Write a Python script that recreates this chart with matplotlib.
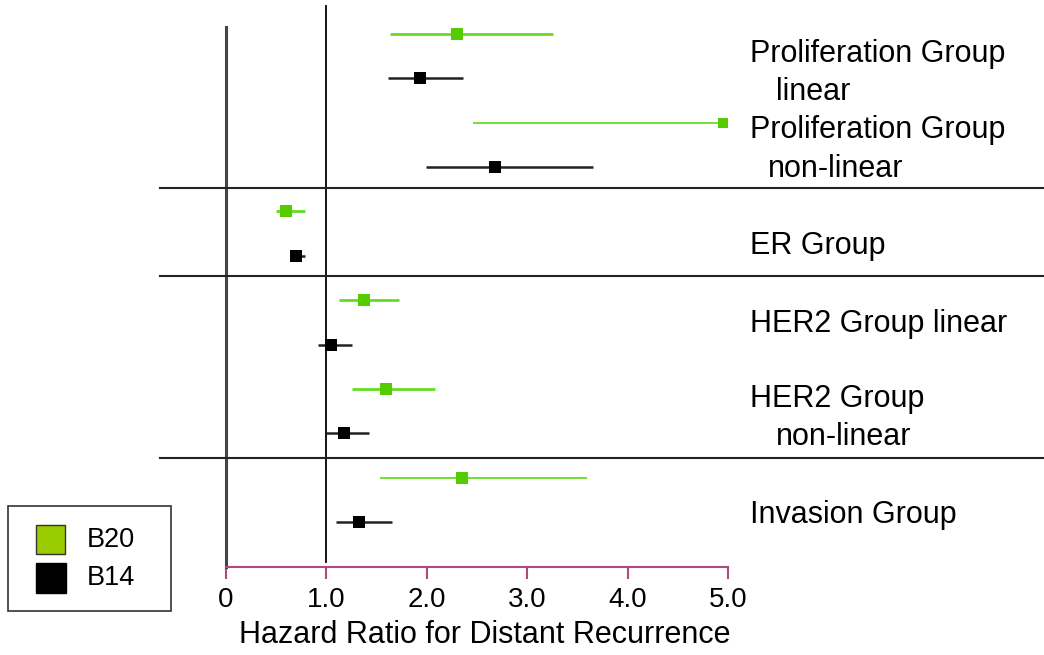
import numpy as np
import matplotlib.pyplot as plt
from matplotlib.patches import Rectangle

plt.rcParams['font.family'] = ['Liberation Sans', 'DejaVu Sans']

# hazard ratios with 95% CI, one entry per signature group
b20_hr = [2.30, 4.95, 0.60, 1.37, 1.59, 2.35]
b20_lo = [1.63, 2.46, 0.50, 1.13, 1.25, 1.53]
b20_hi = [3.26, 4.95, 0.79, 1.72, 2.08, 3.60]

b14_hr = [1.93, 2.68, 0.70, 1.05, 1.18, 1.32]
b14_lo = [1.61, 1.99, 0.68, 0.92, 1.00, 1.10]
b14_hi = [2.36, 3.66, 0.79, 1.25, 1.42, 1.65]

xticks = [0, 1, 2, 3, 4, 5]
xtick_labels = ['0', '1.0', '2.0', '3.0', '4.0', '5.0']

W, H = 1044, 655
green = '#55cc00'
green_line = '#66dd22'
pink = '#b04a7e'

fig = plt.figure(figsize=(W / 100, H / 100), dpi=100)

def px(x, y):
    return x / W, 1 - y / H

# axes box: x=0 at 226px, x=5 at 728px, bottom at 567px, top at figure edge
ax = fig.add_axes([226 / W, (H - 567) / H, (728 - 226) / W, 567 / H])
ax.set_xlim(0, 5)
ax.set_ylim(12.015, -0.766)

n = len(b20_hr)
y_b20 = np.arange(n) * 2
y_b14 = np.arange(n) * 2 + 1

hr = np.array(b20_hr)
err = [hr - np.array(b20_lo), np.array(b20_hi) - hr]
lws = [2.0, 1.3, 2.0, 2.0, 2.0, 1.3]
mss = [8.5, 6.5, 8.5, 8.5, 8.5, 8]
for i in range(n):
    ax.errorbar(hr[i], y_b20[i], xerr=[[err[0][i]], [err[1][i]]], fmt='s',
                color=green, ecolor=green_line, elinewidth=lws[i], capsize=0,
                markersize=mss[i], markeredgewidth=0, zorder=3)

hr = np.array(b14_hr)
err = [hr - np.array(b14_lo), np.array(b14_hi) - hr]
ax.errorbar(hr, y_b14, xerr=err, fmt='s', color='black', ecolor='#222222',
            elinewidth=1.8, capsize=0, markersize=8.5, markeredgewidth=0, zorder=3)

# reference lines
ax.plot([0, 0], [-0.16, 12.015], color='#444444', lw=2.2, zorder=2, clip_on=False)
ax.plot([1, 1], [-0.63, 11.9], color='black', lw=1.3, zorder=2, clip_on=False)

# group separators reaching past the axes on both sides
for yy in [3.47, 5.45, 9.55]:
    ax.plot([-0.66, 8.2], [yy, yy], color='#222222', lw=1.5, clip_on=False, zorder=2)

for s in ['top', 'right', 'left']:
    ax.spines[s].set_visible(False)
ax.spines['bottom'].set_color(pink)
ax.spines['bottom'].set_linewidth(1.5)
ax.set_yticks([])
ax.set_xticks(xticks)
ax.set_xticklabels(xtick_labels, fontsize=20)
ax.tick_params(axis='x', colors=pink, length=8.5, width=1.5, pad=6, labelcolor='black')
ax.set_xlabel('Hazard Ratio for Distant Recurrence', fontsize=22, va='center')
ax.xaxis.set_label_coords(0.516, -0.12)

# group labels on the right
labels = [
    ('Proliferation Group', 750, 62), ('linear', 776, 100),
    ('Proliferation Group', 750, 138), ('non-linear', 768, 177),
    ('ER Group', 750, 254),
    ('HER2 Group linear', 750, 332),
    ('HER2 Group', 750, 407), ('non-linear', 776, 445),
    ('Invasion Group', 750, 523),
]
for txt, x, y in labels:
    fig.text(*px(x, y), txt, fontsize=22, ha='left', va='baseline')

# legend box
fig.add_artist(Rectangle(px(8, 611), 163 / W, 105 / H, transform=fig.transFigure,
                         fill=False, edgecolor='#333333', lw=1.2))
fig.add_artist(Rectangle(px(36, 554), 29 / W, 29 / H, transform=fig.transFigure,
                         facecolor='#99cc00', edgecolor='#333333', lw=1))
fig.add_artist(Rectangle(px(36, 593), 30 / W, 30 / H, transform=fig.transFigure,
                         facecolor='black', edgecolor='black', lw=1))
fig.text(*px(87, 540), 'B20', fontsize=19.5, va='center')
fig.text(*px(87, 578), 'B14', fontsize=19.5, va='center')

fig.savefig('out.png', dpi=100)
